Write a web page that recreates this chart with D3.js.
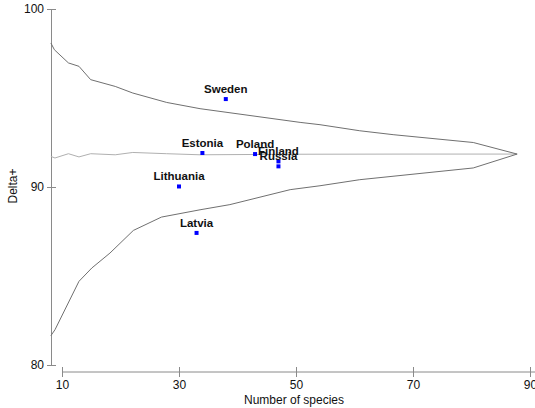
<!DOCTYPE html>
<html>
<head>
<meta charset="utf-8">
<script src="https://d3js.org/d3.v7.min.js"></script>
<style>
  html, body { margin: 0; padding: 0; background: #fff; }
  svg { display: block; font-family: Arial, "Liberation Sans", sans-serif; }
</style>
</head>
<body>
<div id="chart"></div>
<script>
// funnel limits and mean
var upperSpecies = [8.1, 8.7, 11.1, 12.9, 14.9, 19.1, 22.1, 27.9, 33.6, 50.7, 54.1, 60.9, 66.6, 80.3, 87.8];
var upperDelta   = [98.09, 97.71, 96.97, 96.78, 96.03, 95.65, 95.28, 94.75, 94.40, 93.63, 93.50, 93.16, 92.94, 92.50, 91.85];

var meanSpecies = [8.1, 8.8, 11.1, 12.9, 14.9, 19.1, 22.1, 27.9, 33.6, 50, 70, 87.8];
var meanDelta   = [91.72, 91.63, 91.87, 91.69, 91.87, 91.81, 91.94, 91.87, 91.81, 91.84, 91.85, 91.85];

var lowerSpecies = [8.1, 8.8, 12.9, 15.1, 18.2, 22.2, 27.0, 33.6, 38.7, 49.0, 54.1, 60.9, 80.3, 87.8];
var lowerDelta   = [81.65, 81.98, 84.70, 85.45, 86.29, 87.56, 88.31, 88.72, 89.01, 89.85, 90.07, 90.41, 91.07, 91.85];

// countries
var countries = ["Sweden", "Estonia", "Poland", "Finland", "Russia", "Lithuania", "Latvia"];
var species   = [38, 34, 43, 47, 47, 30, 33];
var delta     = [94.94, 91.91, 91.85, 91.44, 91.16, 90.03, 87.42];

var xTicks = [10, 30, 50, 70, 90];
var yTicks = [80, 90, 100];

var W = 535, H = 408;
var svg = d3.select("#chart").append("svg").attr("width", W).attr("height", H);

var x = d3.scaleLinear().domain([10, 90]).range([62, 530]);
var y = d3.scaleLinear().domain([80, 100]).range([365, 9]);

var axisCol = "#8a8a8a";

// y axis
var gy = svg.append("g").attr("transform", "translate(51,0)")
  .call(d3.axisLeft(y).tickValues(yTicks).tickSizeOuter(0).tickSize(4));
gy.select(".domain").attr("stroke", axisCol);
gy.selectAll(".tick line").attr("stroke", axisCol).attr("x1", 5);
gy.selectAll(".tick text").attr("font-size", 12).attr("fill", "#111").attr("x", -7);

// x axis
var gx = svg.append("g").attr("transform", "translate(0,372)")
  .call(d3.axisBottom(x).tickValues(xTicks).tickSize(5));
gx.select(".domain").remove();
gx.append("line").attr("x1", x(10)).attr("x2", W).attr("stroke", axisCol);
gx.selectAll(".tick line").attr("stroke", axisCol).attr("y1", -5);
gx.selectAll(".tick text").attr("font-size", 12).attr("fill", "#111").attr("y", 8);

svg.append("text").attr("x", (x(10) + x(90)) / 2 - 2).attr("y", 404)
  .attr("text-anchor", "middle").attr("font-size", 12).attr("fill", "#111")
  .text("Number of species");

svg.append("text").attr("transform", "translate(17,186) rotate(-90)")
  .attr("text-anchor", "middle").attr("font-size", 12).attr("fill", "#111")
  .text("Delta+");

var line = d3.line().x(function(d) { return x(d[0]); }).y(function(d) { return y(d[1]); });

function drawLine(xs, ys, col) {
  svg.append("path")
    .datum(d3.zip(xs, ys))
    .attr("d", line)
    .attr("fill", "none")
    .attr("stroke", col)
    .attr("stroke-width", 1);
}
drawLine(meanSpecies, meanDelta, "#b0b0b0");
drawLine(upperSpecies, upperDelta, "#707070");
drawLine(lowerSpecies, lowerDelta, "#707070");

var pts = d3.zip(countries, species, delta);

svg.selectAll("rect.pt").data(pts).enter().append("rect")
  .attr("class", "pt")
  .attr("x", function(d) { return x(d[1]) - 2; })
  .attr("y", function(d) { return y(d[2]) - 2; })
  .attr("width", 4).attr("height", 4)
  .attr("fill", "#0000ff");

svg.selectAll("text.lbl").data(pts).enter().append("text")
  .attr("class", "lbl")
  .attr("x", function(d) { return x(d[1]); })
  .attr("y", function(d) { return y(d[2]) - 6; })
  .attr("text-anchor", "middle")
  .attr("font-size", 11.5)
  .attr("font-weight", "bold")
  .attr("fill", "#111")
  .text(function(d) { return d[0]; });
</script>
</body>
</html>
